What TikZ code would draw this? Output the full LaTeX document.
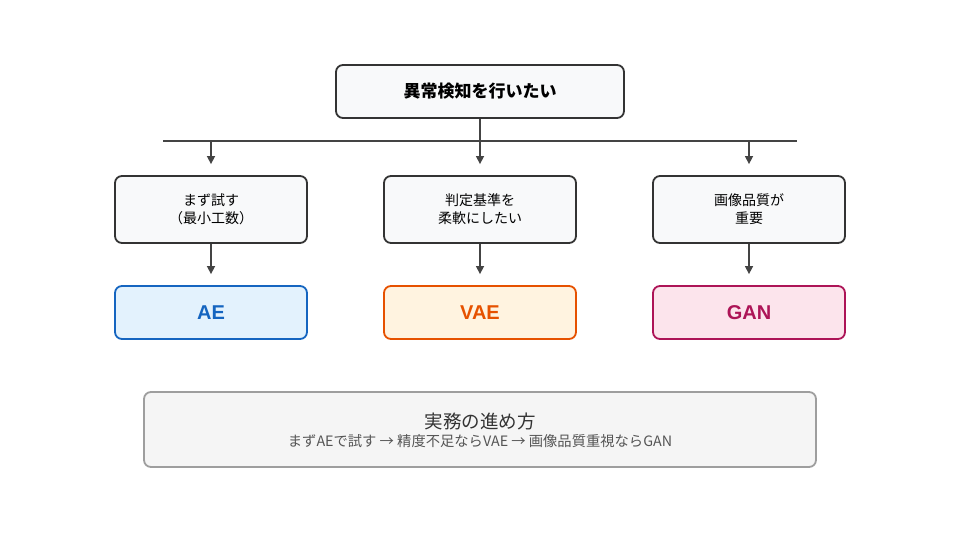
\documentclass[tikz,border=0pt]{standalone}
\usepackage{fontspec}
\setmainfont{Noto Sans CJK JP}
\newfontfamily\latinfont{Liberation Sans}
\usetikzlibrary{arrows.meta}
\definecolor{boxfill}{HTML}{F8F9FA}
\definecolor{boxdraw}{HTML}{333333}
\definecolor{arr}{HTML}{444444}
\definecolor{aefill}{HTML}{E3F2FD}
\definecolor{aedraw}{HTML}{1565C0}
\definecolor{vaefill}{HTML}{FFF3E0}
\definecolor{vaedraw}{HTML}{E65100}
\definecolor{ganfill}{HTML}{FCE4EC}
\definecolor{gandraw}{HTML}{AD1457}
\definecolor{notefill}{HTML}{F5F5F5}
\definecolor{notedraw}{HTML}{9E9E9E}
\definecolor{subtext}{HTML}{555555}
\tikzset{
  qbox/.style={draw=boxdraw, fill=boxfill, line width=1.8pt, rounded corners=7pt, minimum width=192pt, minimum height=67pt, align=center, font=\fontsize{14}{18}\selectfont, inner sep=0pt},
  topbox/.style={draw=boxdraw, fill=boxfill, line width=1.8pt, rounded corners=7pt, minimum width=288pt, minimum height=53pt, font=\fontsize{17}{19}\bfseries\selectfont, inner sep=0pt},
  resbox/.style={line width=1.8pt, rounded corners=7pt, minimum width=192pt, minimum height=53pt, font=\latinfont\bfseries\fontsize{20}{22}\selectfont, inner sep=0pt},
  conn/.style={draw=arr, line width=1.5pt, -{Triangle[length=8pt,width=8pt]}},
  plain/.style={draw=arr, line width=1.5pt}
}
\begin{document}
\begin{tikzpicture}[x=1pt,y=-1pt]
\useasboundingbox (0,0) rectangle (960,540);
\node[topbox] (top) at (480,91.5) {異常検知を行いたい};
\coordinate (hl) at (163,141);
\coordinate (hr) at (797,141);
\coordinate (b1) at (211,141);
\coordinate (b3) at (749,141);
\draw[plain] (hl) -- (hr);
\node[qbox] (q1) at (211,209.5) {まず試す\\（最小工数）};
\node[qbox] (q2) at (480,209.5) {判定基準を\\柔軟にしたい};
\node[qbox] (q3) at (749,209.5) {画像品質が\\重要};
\node[resbox, draw=aedraw, fill=aefill, text=aedraw] (r1) at (211,312.5) {AE};
\node[resbox, draw=vaedraw, fill=vaefill, text=vaedraw] (r2) at (480,312.5) {VAE};
\node[resbox, draw=gandraw, fill=ganfill, text=gandraw] (r3) at (749,312.5) {GAN};
\draw[conn, shorten >=11pt] (b1) -- (q1);
\draw[conn, shorten >=11pt] (top) -- (q2);
\draw[conn, shorten >=11pt] (b3) -- (q3);
\draw[conn, shorten >=11pt] (q1) -- (r1);
\draw[conn, shorten >=11pt] (q2) -- (r2);
\draw[conn, shorten >=11pt] (q3) -- (r3);
\node[draw=notedraw, fill=notefill, line width=1.8pt, rounded corners=7pt, minimum width=672pt, minimum height=75pt, inner sep=0pt] (note) at (480,429.5) {};
\node[font=\fontsize{18.5}{20}\selectfont, text=boxdraw] (nt) at (480,421) {実務の進め方};
\node[font=\fontsize{14.3}{16}\selectfont, text=subtext] (ns) at (480,441) {まずAEで試す → 精度不足ならVAE → 画像品質重視ならGAN};
\end{tikzpicture}
\end{document}
